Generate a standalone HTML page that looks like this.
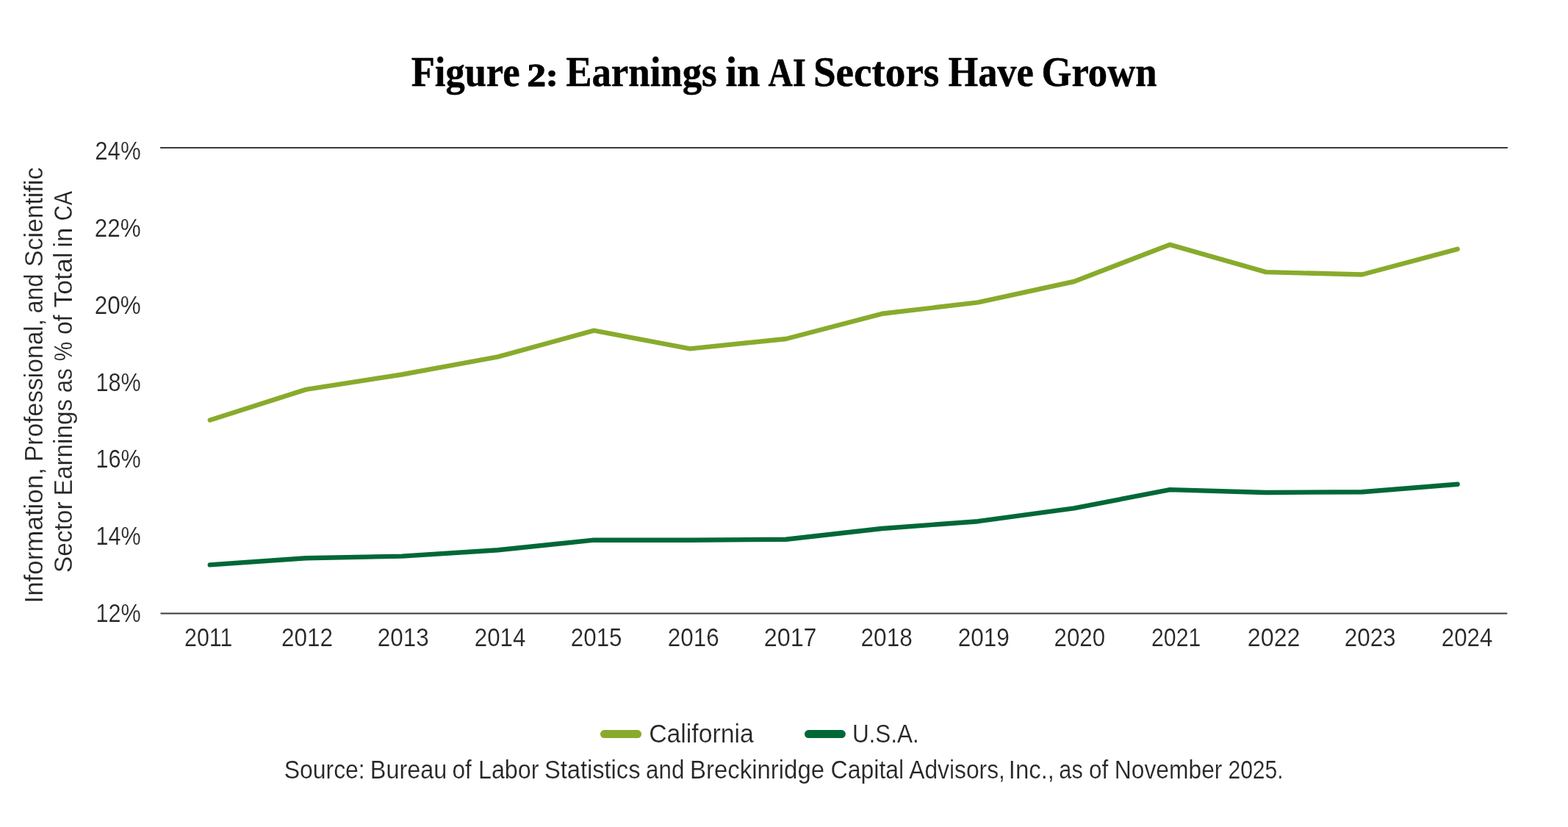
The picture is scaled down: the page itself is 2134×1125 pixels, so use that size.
<!DOCTYPE html>
<html lang="en">
<head>
<meta charset="utf-8">
<title>Figure 2: Earnings in AI Sectors Have Grown</title>
<style>
html,body{margin:0;padding:0;background:#fff;}
body{width:2134px;height:1125px;overflow:hidden;}
svg{display:block;}
text{font-family:"Liberation Sans",sans-serif;font-size:34.5px;fill:#262626;white-space:pre;stroke:#fff;stroke-width:0.2px;stroke-linejoin:round;}
text.title{font-family:"Liberation Serif",serif;font-weight:bold;font-size:56px;fill:#000;stroke:#000;stroke-width:0.5px;stroke-linejoin:round;}
text.u{font-size:54px;}
text.l{font-size:58px;}
text.n{font-size:45px;stroke-width:1.3px;}
.axis{stroke:#3a3a3c;stroke-width:2;fill:none;}
.series{fill:none;stroke-width:6.4;stroke-linecap:round;stroke-linejoin:round;}
.key{fill:none;stroke-width:10.9;stroke-linecap:round;}
.ca{stroke:#88ab2c;}
.us{stroke:#006837;}
</style>
</head>
<body>
<svg xmlns="http://www.w3.org/2000/svg" width="2134" height="1125" viewBox="0 0 2134 1125" role="img" aria-label="Line chart">
<rect width="2134" height="1125" fill="#ffffff"/>
<line class="axis" x1="218.1" y1="200.9" x2="2051.9" y2="200.9"/>
<line class="axis" x1="218.5" y1="834.5" x2="2051.3" y2="834.5"/>
<polyline class="series ca" points="285.8,571.5 416.3,529.9 547.0,509.5 677.7,485.3 808.3,449.6 939.0,474.4 1069.7,461.0 1200.3,426.8 1331.0,411.4 1461.7,383.0 1592.3,332.8 1723.0,370.1 1853.7,373.5 1983.6,338.8"/>
<polyline class="series us" points="285.8,768.4 416.3,759.2 547.0,756.6 677.7,748.3 808.3,734.6 939.0,734.7 1069.7,733.7 1200.3,719.0 1331.0,709.2 1461.7,691.4 1592.3,666.1 1723.0,670.0 1853.7,669.2 1983.6,658.8"/>
<line class="key ca" x1="822.4" y1="998.55" x2="867.6" y2="998.55"/>
<line class="key us" x1="1100.4" y1="998.55" x2="1145.4" y2="998.55"/>
<text class="title" transform="translate(559.81 117.20) scale(0.9370 1)">Figure</text>
<text class="title n" transform="translate(717.41 117.20) scale(1.1297 1)">2:</text>
<text class="title" transform="translate(770.20 117.20) scale(0.9434 1)">Earnings</text>
<text class="title l" transform="translate(987.41 117.20) scale(0.9730 1)">in</text>
<text class="title u" transform="translate(1045.46 117.20) scale(0.8569 1)">AI</text>
<text class="title" transform="translate(1106.95 117.20) scale(0.9841 1)">Sectors</text>
<text class="title" transform="translate(1290.41 117.20) scale(0.9352 1)">Have</text>
<text class="title" transform="translate(1417.42 117.20) scale(0.9406 1)">Grown</text>
<text transform="translate(129.27 216.90) scale(0.9032 1)">24%</text>
<text transform="translate(128.75 321.80) scale(0.9108 1)">22%</text>
<text transform="translate(128.75 426.60) scale(0.9108 1)">20%</text>
<text transform="translate(130.38 531.50) scale(0.8866 1)">18%</text>
<text transform="translate(130.38 636.40) scale(0.8866 1)">16%</text>
<text transform="translate(130.38 741.20) scale(0.8866 1)">14%</text>
<text transform="translate(130.38 846.10) scale(0.8866 1)">12%</text>
<text transform="translate(251.01 879.00) scale(0.8802 1)">2011</text>
<text transform="translate(383.05 879.00) scale(0.9133 1)">2012</text>
<text transform="translate(513.86 879.00) scale(0.9092 1)">2013</text>
<text transform="translate(645.76 879.00) scale(0.9068 1)">2014</text>
<text transform="translate(776.86 879.00) scale(0.9068 1)">2015</text>
<text transform="translate(908.86 879.00) scale(0.9090 1)">2016</text>
<text transform="translate(1039.71 879.00) scale(0.9367 1)">2017</text>
<text transform="translate(1171.55 879.00) scale(0.9142 1)">2018</text>
<text transform="translate(1303.75 879.00) scale(0.9145 1)">2019</text>
<text transform="translate(1434.56 879.00) scale(0.9071 1)">2020</text>
<text transform="translate(1567.01 879.00) scale(0.8767 1)">2021</text>
<text transform="translate(1697.81 879.00) scale(0.9339 1)">2022</text>
<text transform="translate(1829.65 879.00) scale(0.9120 1)">2023</text>
<text transform="translate(1961.76 879.00) scale(0.9068 1)">2024</text>
<text transform="translate(883.19 1010.00) scale(0.9789 1)">California</text>
<text transform="translate(1159.90 1010.00) scale(0.9117 1)">U.S.A.</text>
<text transform="translate(386.70 1058.60) scale(0.9256 1)">Source:</text>
<text transform="translate(503.81 1058.60) scale(0.9391 1)">Bureau</text>
<text transform="translate(615.51 1058.60) scale(0.9180 1)">of</text>
<text transform="translate(650.91 1058.60) scale(0.9373 1)">Labor</text>
<text transform="translate(740.96 1058.60) scale(0.9459 1)">Statistics</text>
<text transform="translate(879.10 1058.60) scale(0.9069 1)">and</text>
<text transform="translate(938.96 1058.60) scale(0.9550 1)">Breckinridge</text>
<text transform="translate(1130.58 1058.60) scale(0.9281 1)">Capital</text>
<text transform="translate(1237.25 1058.60) scale(0.9208 1)">Advisors,</text>
<text transform="translate(1372.84 1058.60) scale(0.9527 1)">Inc.,</text>
<text transform="translate(1441.33 1058.60) scale(0.8896 1)">as</text>
<text transform="translate(1482.12 1058.60) scale(0.9106 1)">of</text>
<text transform="translate(1516.85 1058.60) scale(0.9216 1)">November</text>
<text transform="translate(1671.42 1058.60) scale(0.8718 1)">2025.</text>
<text transform="translate(57.90 820.57) rotate(-90) scale(1.0128 1)">Information,</text>
<text transform="translate(57.90 628.10) rotate(-90) scale(0.9741 1)">Professional,</text>
<text transform="translate(57.90 426.34) rotate(-90) scale(0.9312 1)">and</text>
<text transform="translate(57.90 363.10) rotate(-90) scale(0.9817 1)">Scientific</text>
<text transform="translate(97.80 779.08) rotate(-90) scale(0.9692 1)">Sector</text>
<text transform="translate(97.80 674.28) rotate(-90) scale(0.9662 1)">Earnings</text>
<text transform="translate(97.80 534.21) rotate(-90) scale(0.9135 1)">as</text>
<text transform="translate(97.80 491.27) rotate(-90) scale(0.8628 1)">%</text>
<text transform="translate(97.80 455.11) rotate(-90) scale(0.9291 1)">of</text>
<text transform="translate(97.80 418.57) rotate(-90) scale(1.0317 1)">Total</text>
<text transform="translate(97.80 336.62) rotate(-90) scale(1.0048 1)">in</text>
<text transform="translate(97.80 300.26) rotate(-90) scale(0.8410 1)">CA</text>
</svg>
</body>
</html>
